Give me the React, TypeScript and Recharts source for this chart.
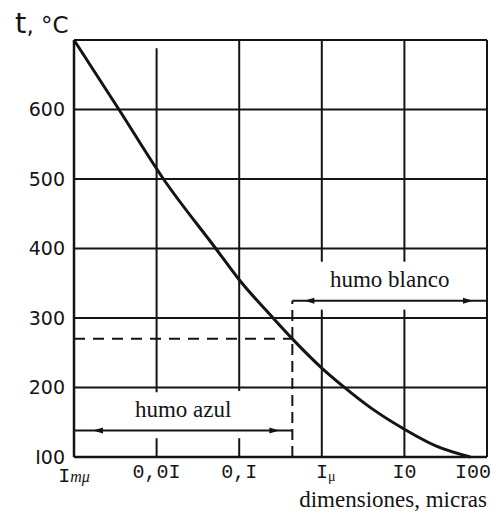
import React from 'react';
import { LineChart, Line, XAxis, YAxis, CartesianGrid, ReferenceLine } from 'recharts';

const INK = '#141414';

// particle size (microns) vs temperature (°C)
const sizes = [0.001, 0.0035, 0.0121, 0.052, 0.1, 0.257, 0.44, 1, 1.8, 4, 10, 24, 63];
const temps = [700, 600, 500, 400, 355, 300, 270, 228, 202, 170, 140, 116, 100];
const curve = sizes.map((s, i) => ({ size: s, temp: temps[i] }));

const xTicks = [0.001, 0.01, 0.1, 1, 10, 100];
const xTickLabels = ['Imμ', '0,0I', '0,I', 'Iμ', 'I0', 'I00'];
const yTicks = [100, 200, 300, 400, 500, 600, 700];
const yTickLabels = ['I00', '200', '300', '400', '500', '600', ''];

// vertical grid pieces [size, from, to]; the gaps leave room for the labels
const gridPieces: [number, number, number][] = [
  [0.01, 688, 193], [0.01, 127, 100],
  [0.1, 700, 195], [0.1, 127, 100],
  [1, 700, 381], [1, 312, 100],
  [10, 700, 381], [10, 312, 100],
  [100, 700, 100],
];

const boundarySize = 0.44;
const boundaryTemp = 270;
const blueLevel = 138;
const whiteLevel = 325;

const arrow = (insetL: number, insetR: number) => (props: any) => {
  const { x1, y1, x2 } = props;
  const lx = Math.min(x1, x2);
  const rx = Math.max(x1, x2);
  const a = lx + insetL;
  const b = rx - insetR;
  return (
    <g>
      <line x1={lx} y1={y1} x2={rx} y2={y1} stroke={INK} strokeWidth={2} />
      <path d={`M${a},${y1} l10,-3 l0,6 z`} fill={INK} />
      <path d={`M${b},${y1} l-10,-3 l0,6 z`} fill={INK} />
    </g>
  );
};

const XTick = (props: any) => {
  const { x, y, payload } = props;
  const i = xTicks.indexOf(payload.value);
  const label = xTickLabels[i];
  const font = { fontFamily: 'Liberation Mono, monospace', fill: INK };
  if (i === 0) {
    return (
      <text x={x} y={y + 17} textAnchor="middle" {...font} fontSize={20}>
        I<tspan fontSize={16} fontFamily="Liberation Serif, serif" fontStyle="italic">mμ</tspan>
      </text>
    );
  }
  if (i === 3) {
    return (
      <text x={x + 4} y={y + 13} textAnchor="middle" {...font} fontSize={20}>
        I<tspan fontSize={14} fontFamily="Liberation Serif, serif" dy={3}>μ</tspan>
      </text>
    );
  }
  const last = i === xTicks.length - 1;
  return (
    <text x={last ? x + 4 : x} y={y + 13} textAnchor={last ? 'end' : 'middle'} {...font} fontSize={20}>
      {label}
    </text>
  );
};

const YTick = (props: any) => {
  const { x, y, payload } = props;
  const label = yTickLabels[yTicks.indexOf(payload.value)];
  if (!label) return null;
  return (
    <text x={x - 1} y={y} dy="0.36em" textAnchor="end" fontFamily="DejaVu Sans, sans-serif" fontSize={19} fill={INK}>
      {label}
    </text>
  );
};

const noteFont = { fill: INK, fontSize: 23, fontFamily: 'Liberation Serif, serif' };

export default function App() {
  return (
    <div style={{ position: 'absolute', left: 0, top: 0, background: '#fff' }}>
      <LineChart width={495} height={514} data={curve} margin={{ top: 40, right: 8, bottom: 0, left: 0 }}>
        <CartesianGrid vertical={false} stroke={INK} strokeWidth={2} />
        <XAxis
          dataKey="size"
          type="number"
          scale="log"
          domain={[0.001, 100]}
          ticks={xTicks}
          tick={<XTick />}
          tickLine={false}
          axisLine={{ stroke: INK, strokeWidth: 2.5 }}
          height={57}
          interval={0}
          label={{
            content: (p: any) => (
              <text x={p.viewBox.x + p.viewBox.width} y={p.viewBox.y + 50} textAnchor="end"
                fontFamily="Liberation Serif, serif" fontSize={23} fill={INK}>
                dimensiones, micras
              </text>
            ),
          }}
        />
        <YAxis
          type="number"
          domain={[100, 700]}
          ticks={yTicks}
          tick={<YTick />}
          tickLine={false}
          axisLine={{ stroke: INK, strokeWidth: 2.5 }}
          width={74}
          interval={0}
          label={{
            content: (p: any) => (
              <text x={15} y={p.viewBox.y - 7} fontFamily="DejaVu Sans, sans-serif" fill={INK}>
                <tspan fontSize={29}>t</tspan>
                <tspan fontSize={23}>, °C</tspan>
              </text>
            ),
          }}
        />
        {gridPieces.map(([s, a, b], i) => (
          <ReferenceLine key={i} segment={[{ x: s, y: a }, { x: s, y: b }]} stroke={INK} strokeWidth={2} />
        ))}
        <ReferenceLine
          segment={[{ x: 0.001, y: boundaryTemp }, { x: boundarySize, y: boundaryTemp }]}
          stroke={INK} strokeWidth={2} strokeDasharray="11 8"
        />
        <ReferenceLine
          segment={[{ x: boundarySize, y: 100 }, { x: boundarySize, y: whiteLevel }]}
          stroke={INK} strokeWidth={2} strokeDasharray="11 6"
        />
        <ReferenceLine
          segment={[{ x: 0.001, y: blueLevel }, { x: boundarySize, y: blueLevel }]}
          shape={arrow(19, 13)}
          label={{ value: 'humo azul', position: 'top', offset: 14, ...noteFont }}
        />
        <ReferenceLine
          segment={[{ x: boundarySize, y: whiteLevel }, { x: 100, y: whiteLevel }]}
          shape={arrow(12, 14)}
          label={{ value: 'humo blanco', position: 'top', offset: 14, ...noteFont }}
        />
        <Line
          dataKey="temp"
          type="monotone"
          stroke={INK}
          strokeWidth={3}
          dot={false}
          isAnimationActive={false}
        />
      </LineChart>
    </div>
  );
}
